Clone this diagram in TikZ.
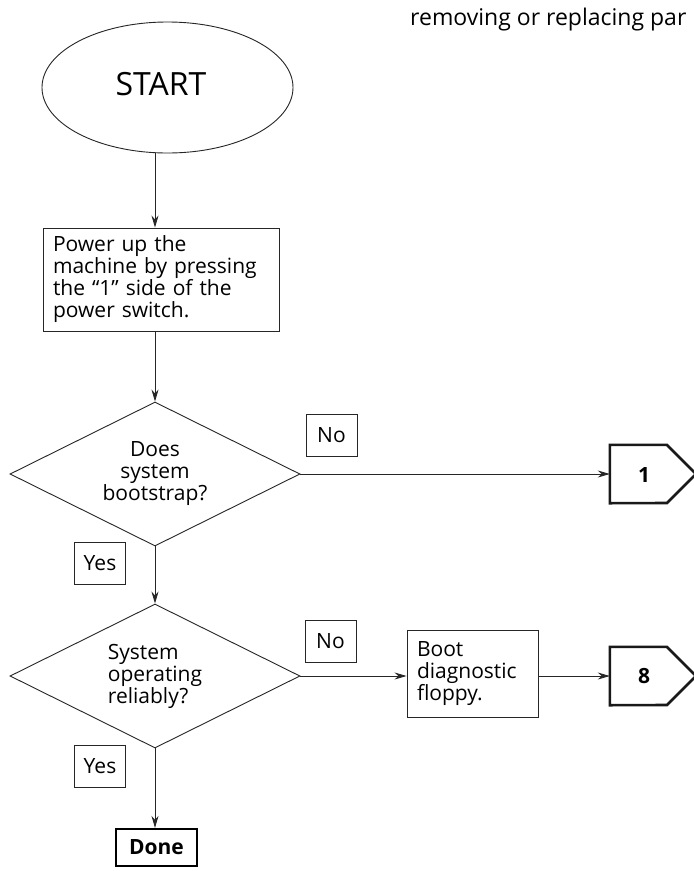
\documentclass[tikz,border=0pt]{standalone}
\usepackage{fontspec}
\setmainfont{Open Sans}
\usetikzlibrary{shapes.geometric,arrows.meta}
\begin{document}
\begin{tikzpicture}[x=1pt,y=-1pt,
  every node/.style={font=\fontsize{21}{22}\selectfont, inner sep=0pt},
  thinline/.style={line width=0.9pt, draw=black!85},
  flowarrow/.style={thinline, -{Stealth[length=12pt,width=7pt]}},
  stepbox/.style={thinline, draw, rectangle, align=left},
  decision/.style={thinline, draw, diamond, aspect=2, minimum width=290pt, minimum height=144pt},
  answer/.style={thinline, draw, rectangle, minimum width=51pt, minimum height=42pt},
  connector/.style={line width=2.6pt, draw=black!90, line join=miter},
]
\useasboundingbox (0,0) rectangle (694,871);
\fill[white] (0,0) rectangle (694,871);

% column of the main flow
\coordinate (col) at (155,0);

% continued text at the top edge
\node[anchor=base west, font=\fontsize{23}{24}\selectfont] (note) at (410,25) {removing or replacing par};

% start terminal
\node[thinline, draw, ellipse, minimum width=251pt, minimum height=131pt] (start) at (167.5,87.5) {};
\node[font=\fontsize{32}{32}\selectfont, anchor=base] (starttext) at (161,95) {START};

% power-up step
\node[stepbox, minimum width=236pt, minimum height=103pt, text width=216pt] (power) at (161,279.5)
  {Power up the\\machine by pressing\\the ``1'' side of the\\power switch.};

% first decision
\node[decision, align=center] (boot) at (155,474) {Does\\system\\bootstrap?};
\node[answer] (no1) at (331.5,435) {No};
\node[answer] (yes1) at (100,563) {Yes};

% second decision
\node[decision, align=left] (rel) at (155,676) {System\\operating\\reliably?};
\node[answer] (no2) at (330.5,641.5) {No};
\node[answer] (yes2) at (100,766) {Yes};

% diagnostic floppy step
\node[stepbox, minimum width=131pt, minimum height=87pt, text width=111pt] (floppy) at (472.5,673.5)
  {Boot\\diagnostic\\floppy.};

% off-page connectors
\node[minimum width=57pt, minimum height=58pt] (p1) at (638.5,474) {};
\node[font=\fontsize{21}{22}\selectfont\bfseries] (p1text) at (644,475) {1};
\draw[connector] (p1.north west) -- ++(57,0) -- (696,474) -- (667,503) -- (p1.south west) -- cycle;

\node[minimum width=57pt, minimum height=58pt] (p8) at (638.5,676) {};
\node[font=\fontsize{21}{22}\selectfont\bfseries] (p8text) at (644,676) {8};
\draw[connector] (p8.north west) -- ++(57,0) -- (696,676) -- (667,705) -- (p8.south west) -- cycle;

% done terminal
\node[draw, line width=2.2pt, rectangle, minimum width=81pt, minimum height=37pt,
      font=\fontsize{21}{22}\selectfont\bfseries] (done) at (156.5,847.5) {Done};

% connectors
\draw[flowarrow] (col |- start.south) -- (col |- power.north);
\draw[flowarrow] (col |- power.south) -- (boot.north);
\draw[flowarrow] (boot.east) -- (p1.west);
\draw[flowarrow] (boot.south) -- (rel.north);
\draw[flowarrow] (rel.east) -- (rel.east -| floppy.west);
\draw[flowarrow] (rel.east -| floppy.east) -- (p8.west);
\draw[flowarrow] (rel.south) -- (rel.south |- done.north);
\end{tikzpicture}
\end{document}
